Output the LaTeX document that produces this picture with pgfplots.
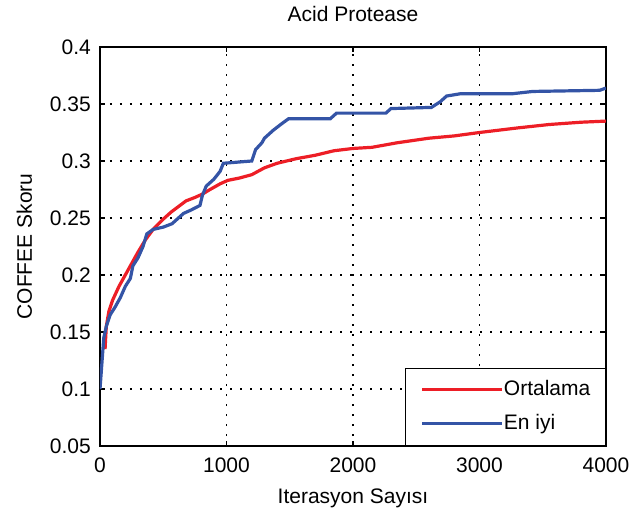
\documentclass[border=0pt]{standalone}
\usepackage{fontspec}
\setmainfont{Liberation Sans}
\usepackage{pgfplots}
\pgfplotsset{compat=1.18}
\definecolor{mred}{RGB}{237,30,38}
\definecolor{mblue}{RGB}{52,84,166}
\newcommand{\ff}{\fontsize{21bp}{25bp}\selectfont}
\begin{document}
\begin{tikzpicture}
\useasboundingbox (-100bp,-66bp) rectangle (532bp,446bp);
\begin{axis}[
  scale only axis,
  width=506bp, height=399bp,
  xmin=0, xmax=4000, ymin=0.05, ymax=0.4,
  xtick={0,1000,2000,3000,4000},
  xticklabels={0,1000,2000,3000,4000},
  ytick={0.05,0.1,0.15,0.2,0.25,0.3,0.35,0.4},
  yticklabels={0.05,0.1,0.15,0.2,0.25,0.3,0.35,0.4},
  scaled x ticks=false, scaled y ticks=false,
  tick align=inside,
  major tick length=5bp,
  tick style={black, line width=1.2bp},
  axis line style={black, line width=1.5bp},
  grid=major,
  major grid style={black, line width=1.6bp, dash pattern=on 1.6bp off 8.4bp},
  xticklabel style={font=\ff, inner sep=0pt, anchor=north, yshift=-12bp},
  yticklabel style={font=\ff, inner sep=0pt, anchor=east, xshift=-9bp},
  title={Acid Protease},
  title style={font=\ff, at={(axis description cs:0.5,1.0501)}, anchor=base, inner sep=0pt},
  xlabel={Iterasyon Sayısı},
  xlabel style={font=\ff, at={(axis description cs:0.5,-0.1429)}, anchor=base, inner sep=0pt},
  ylabel={COFFEE Skoru},
  ylabel style={font=\ff, at={(axis description cs:-0.1344,0.5)}, anchor=base, inner sep=0pt, rotate=0},
  legend style={at={(axis description cs:1,0)}, anchor=south east, draw=black, line width=1.3bp,
    font=\ff, inner xsep=15bp, inner ysep=12bp, row sep=15bp,
    nodes={inner sep=0pt, text height=15bp, text depth=4bp}},
  legend cell align=left,
  legend image code/.code={\draw[#1, line width=3.2bp] (0bp,0bp) -- (80bp,0bp);},
  /tikz/every even column/.append style={column sep=10bp},
]
\addplot[mred, line width=3.2bp] coordinates {
(40,0.135)(50,0.155)(70,0.168)(100,0.178)(150,0.19)(200,0.2)(250,0.21)(300,0.22)
(360,0.231)(420,0.24)(490,0.248)(560,0.255)(620,0.26)(680,0.265)(750,0.268)
(810,0.271)(870,0.275)(950,0.28)(1010,0.283)(1100,0.285)(1200,0.288)(1300,0.294)
(1400,0.298)(1550,0.302)(1700,0.305)(1850,0.309)(2000,0.311)(2150,0.312)
(2350,0.316)(2600,0.32)(2800,0.322)(3000,0.325)(3300,0.329)(3550,0.332)
(3800,0.334)(4000,0.335)
};
\addlegendentry{Ortalama}
\addplot[mblue, line width=3.2bp] coordinates {
(0,0.10)(20,0.13)(30,0.145)(50,0.155)(80,0.165)(120,0.172)(160,0.18)(200,0.19)
(240,0.197)(260,0.208)(300,0.215)(340,0.225)(370,0.236)(420,0.24)(500,0.242)
(570,0.245)(620,0.25)(660,0.254)(720,0.257)(790,0.261)(810,0.27)(840,0.278)
(900,0.284)(950,0.291)(975,0.298)(1200,0.300)(1230,0.31)(1280,0.316)(1300,0.32)
(1370,0.327)(1440,0.333)(1490,0.337)(1820,0.337)(1870,0.342)(2260,0.342)
(2300,0.346)(2620,0.347)(2690,0.352)(2740,0.357)(2850,0.359)(3260,0.359)
(3420,0.361)(3950,0.362)(4000,0.364)
};
\addlegendentry{En iyi}
\end{axis}
\end{tikzpicture}
\end{document}
